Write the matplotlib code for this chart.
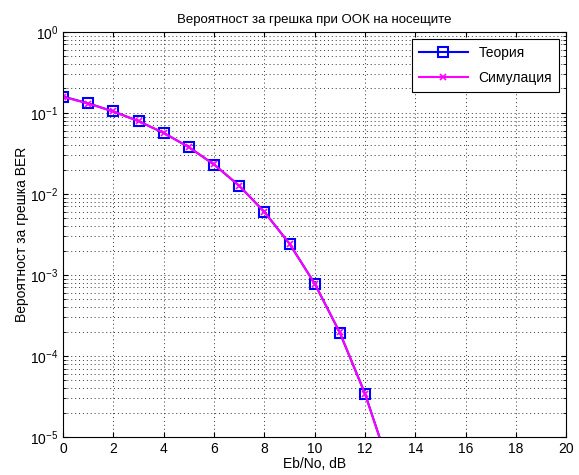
import numpy as np
import matplotlib
matplotlib.use('Agg')
import matplotlib.pyplot as plt
from matplotlib.ticker import LogLocator, FixedLocator

plt.rcParams['font.family'] = ['Liberation Sans', 'DejaVu Sans']
plt.rcParams['mathtext.fontset'] = 'custom'
plt.rcParams['mathtext.rm'] = 'Liberation Sans'
plt.rcParams['mathtext.it'] = 'Liberation Sans'

# Eb/No in dB
ebno_db = [0, 1, 2, 3, 4, 5, 6, 7, 8, 9, 10, 11, 12, 13]
# theoretical BER
ber_theory = [0.159, 0.131, 0.104, 0.0789, 0.0565, 0.0377, 0.0230, 0.0126,
              0.00600, 0.00242, 0.000783, 0.000193, 3.43e-5, 4.0e-6]
# simulated BER
ber_sim = [0.158, 0.130, 0.104, 0.0790, 0.0566, 0.0376, 0.0231, 0.0126,
           0.00598, 0.00243, 0.000780, 0.000195, 3.4e-5, 4.0e-6]

fig = plt.figure(figsize=(5.79, 4.75), dpi=100)
ax = fig.add_axes([0.109, 0.08, 0.869, 0.853])

ax.semilogy(ebno_db, ber_theory, color='#0000ff', lw=1.5, marker='s',
            ms=7, mfc='none', mew=1.5, label='Теория')
ax.semilogy(ebno_db, ber_sim, color='#ff00ff', lw=1.5, marker='x',
            ms=5, mew=1.2, label='Симулация')

ax.set_xlim(0, 20)
ax.set_ylim(1e-5, 1)
ax.xaxis.set_major_locator(FixedLocator(range(0, 21, 2)))
ax.yaxis.set_major_locator(LogLocator(base=10, numticks=10))
ax.yaxis.set_minor_locator(LogLocator(base=10, subs=np.arange(2, 10), numticks=10))

dots = (0, (1, 3))
ax.grid(True, which='major', ls=dots, color='#333333', lw=0.7)
ax.grid(True, which='minor', axis='y', ls=dots, color='#333333', lw=0.7)
ax.tick_params(which='both', direction='in', labelsize=10, top=True, right=True)
ax.tick_params(which='minor', labelleft=False, length=2)
for s in ax.spines.values():
    s.set_linewidth(0.8)

ax.set_title('Вероятност за грешка при ООК на носещите', fontsize=9.5)
ax.set_xlabel('Eb/No, dB', fontsize=10, labelpad=1)
ax.set_ylabel('Вероятност за грешка BER', fontsize=10, labelpad=1)

leg = ax.legend(loc='upper right', fontsize=10, fancybox=False, framealpha=1,
                edgecolor='black', handlelength=3.5, borderaxespad=0.5,
                labelspacing=0.8, borderpad=0.5)
leg.get_frame().set_linewidth(0.8)

fig.savefig('out.png', dpi=100)
